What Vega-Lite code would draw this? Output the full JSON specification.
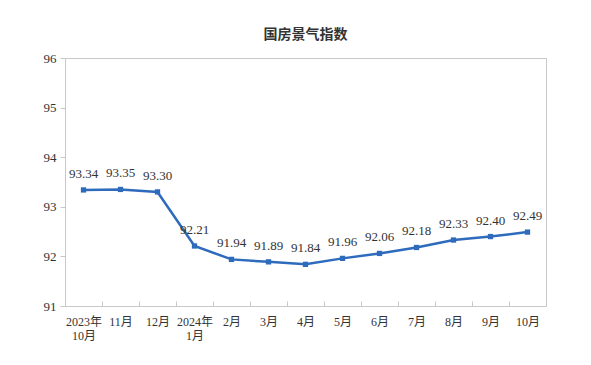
{
  "$schema": "https://vega.github.io/schema/vega-lite/v6.json",
  "autosize": {"type": "none"},
  "padding": {"left": 65, "top": 58, "right": 45, "bottom": 59},
  "width": 481,
  "height": 248,
  "background": "white",
  "title": {
    "text": "国房景气指数",
    "font": "Noto Sans CJK SC",
    "fontSize": 14,
    "fontWeight": "bold",
    "color": "#333333",
    "anchor": "middle",
    "offset": 10
  },
  "config": {
    "view": {"stroke": "#c8c8c8", "strokeWidth": 1}
  },
  "data": {
    "values": [
      {"month": "2023年\n10月", "value": 93.34},
      {"month": "11月", "value": 93.35},
      {"month": "12月", "value": 93.30},
      {"month": "2024年\n1月", "value": 92.21},
      {"month": "2月", "value": 91.94},
      {"month": "3月", "value": 91.89},
      {"month": "4月", "value": 91.84},
      {"month": "5月", "value": 91.96},
      {"month": "6月", "value": 92.06},
      {"month": "7月", "value": 92.18},
      {"month": "8月", "value": 92.33},
      {"month": "9月", "value": 92.40},
      {"month": "10月", "value": 92.49}
    ]
  },
  "encoding": {
    "x": {
      "field": "month",
      "type": "ordinal",
      "sort": null,
      "bandPosition": 0.5,
      "scale": {"type": "band", "paddingInner": 0, "paddingOuter": 0},
      "axis": {
        "title": null,
        "labelAngle": 0,
        "tickBand": "extent",
        "tickSize": -5,
        "tickColor": "#c8c8c8",
        "domainColor": "#c8c8c8",
        "labelFont": "Liberation Serif, Noto Sans CJK SC",
        "labelFontSize": 12,
        "labelColor": "#333333",
        "labelPadding": 15,
        "labelLineHeight": 14,
        "labelExpr": "split(datum.label, '\\n')"
      }
    },
    "y": {
      "field": "value",
      "type": "quantitative",
      "scale": {"domain": [91, 96], "nice": false, "zero": false},
      "axis": {
        "title": null,
        "values": [91, 92, 93, 94, 95, 96],
        "grid": false,
        "tickSize": 5,
        "tickColor": "#c8c8c8",
        "domainColor": "#c8c8c8",
        "labelFont": "Liberation Serif",
        "labelFontSize": 13,
        "labelColor": "#333333",
        "labelPadding": 4
      }
    }
  },
  "layer": [
    {
      "mark": {"type": "line", "color": "#2e6bbc", "strokeWidth": 2.5}
    },
    {
      "mark": {"type": "square", "color": "#2e6bbc", "size": 28, "opacity": 1}
    },
    {
      "mark": {"type": "text", "dy": -16, "font": "Liberation Serif", "fontSize": 13, "color": "#333333"},
      "encoding": {
        "text": {"field": "value", "type": "quantitative", "format": ".2f"}
      }
    }
  ]
}
